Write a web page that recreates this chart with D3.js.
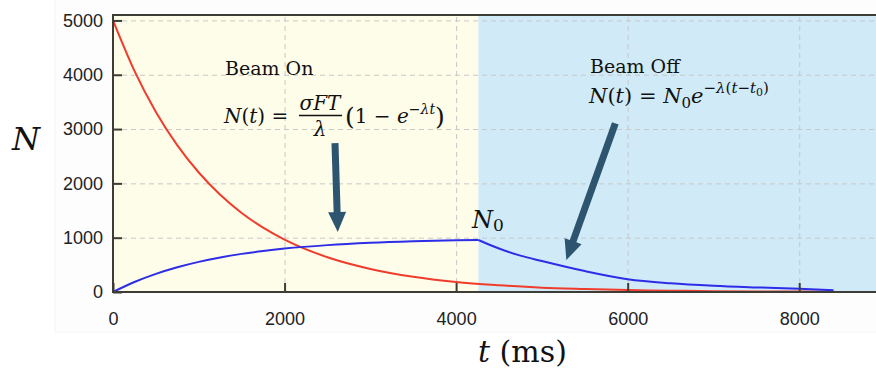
<!DOCTYPE html>
<html>
<head>
<meta charset="utf-8">
<script src="https://cdn.jsdelivr.net/npm/d3@7"></script>
<style>
  body { margin: 0; background: #fff; }
  svg { display: block; }
  .tick text { font-family: "Liberation Sans", Arial, sans-serif; font-size: 18px; fill: #222; }
  .serif { font-family: "DejaVu Serif", serif; fill: #111; }
</style>
</head>
<body>
<div id="chart"></div>
<script>
// time axis (ms) and population readings
const tRed = [0, 250, 500, 750, 1000, 1250, 1500, 1750, 2000, 2500, 3000, 3500, 4000, 4500, 5000, 5500, 6000, 6500, 7000, 7500, 8000, 8400];
const redN = [5000, 4070, 3315, 2700, 2200, 1790, 1455, 1185, 965, 640, 425, 280, 185, 125, 80, 55, 35, 25, 15, 10, 7, 5];

const tOn = [0, 250, 500, 750, 1000, 1250, 1500, 1750, 2000, 2500, 3000, 3500, 4000, 4260];
const blueOn = [0, 184, 334, 456, 555, 636, 702, 755, 799, 863, 906, 934, 953, 958];

const tOff = [4260, 4500, 4750, 5000, 5500, 6000, 6500, 7000, 7500, 8000, 8400];
const blueOff = [958, 800, 670, 570, 385, 235, 160, 115, 85, 60, 30];

const beamSwitch = 4260;
const xTicks = [0, 2000, 4000, 6000, 8000];
const xTickLabels = ["0", "2000", "4000", "6000", "8000"];
const yTicks = [0, 1000, 2000, 3000, 4000, 5000];
const yTickLabels = ["0", "1000", "2000", "3000", "4000", "5000"];

const width = 876, height = 372;
const plotLeft = 113, plotRight = 885, plotTop = 15, plotBottom = 292;

const svg = d3.select("#chart").append("svg")
    .attr("width", width)
    .attr("height", height);

const x = d3.scaleLinear().domain([0, 9000]).range([plotLeft, plotRight]);
const y = d3.scaleLinear().domain([0, 5100]).range([plotBottom, plotTop]);

// faint outer panel
svg.append("rect")
    .attr("x", 55).attr("y", -1)
    .attr("width", width - 54).attr("height", 333)
    .attr("fill", "#fdfdfd")
    .attr("stroke", "#f4f4f4");

// beam on / beam off regions
svg.append("rect")
    .attr("x", x(0)).attr("y", y(5100))
    .attr("width", x(beamSwitch) - x(0))
    .attr("height", y(0) - y(5100))
    .attr("fill", "#fdfdea");

svg.append("rect")
    .attr("x", x(beamSwitch)).attr("y", y(5100))
    .attr("width", x(9000) - x(beamSwitch))
    .attr("height", y(0) - y(5100))
    .attr("fill", "#d0eaf7");

// grid
svg.append("g")
    .attr("transform", "translate(0," + plotBottom + ")")
    .call(d3.axisBottom(x).tickValues(xTicks.slice(1)).tickSize(-(plotBottom - plotTop)).tickFormat(""))
    .call(g => g.select(".domain").remove())
    .call(g => g.selectAll("line").attr("stroke", "#c8c8c8").attr("stroke-dasharray", "5,4"));

svg.append("g")
    .attr("transform", "translate(" + plotLeft + ",0)")
    .call(d3.axisLeft(y).tickValues(yTicks.slice(1)).tickSize(-(width - plotLeft)).tickFormat(""))
    .call(g => g.select(".domain").remove())
    .call(g => g.selectAll("line").attr("stroke", "#c8c8c8").attr("stroke-dasharray", "5,4"));

// curves
const line = d3.line()
    .x(d => x(d[0]))
    .y(d => y(d[1]))
    .curve(d3.curveMonotoneX);

svg.append("path")
    .datum(tRed.map((t, i) => [t, redN[i]]))
    .attr("d", line)
    .attr("fill", "none")
    .attr("stroke", "#f03c2c")
    .attr("stroke-width", 2);

svg.append("path")
    .datum(tOn.map((t, i) => [t, blueOn[i]]))
    .attr("d", line)
    .attr("fill", "none")
    .attr("stroke", "#2d2de8")
    .attr("stroke-width", 2);

svg.append("path")
    .datum(tOff.map((t, i) => [t, blueOff[i]]))
    .attr("d", line)
    .attr("fill", "none")
    .attr("stroke", "#2d2de8")
    .attr("stroke-width", 2);

// frame
const frameColor = "#3d3d35";
svg.append("line").attr("x1", plotLeft).attr("x2", width).attr("y1", plotTop).attr("y2", plotTop)
    .attr("stroke", frameColor).attr("stroke-width", 2);
svg.append("line").attr("x1", plotLeft).attr("x2", width).attr("y1", plotBottom).attr("y2", plotBottom)
    .attr("stroke", frameColor).attr("stroke-width", 2);
svg.append("line").attr("x1", plotLeft).attr("x2", plotLeft).attr("y1", plotTop - 1).attr("y2", plotBottom + 1)
    .attr("stroke", frameColor).attr("stroke-width", 2);

// axes, inward ticks
svg.append("g")
    .attr("transform", "translate(" + plotLeft + ",0)")
    .call(d3.axisLeft(y).tickValues(yTicks).tickSizeInner(-9).tickSizeOuter(0).tickPadding(10)
        .tickFormat((d, i) => yTickLabels[i]))
    .call(g => g.select(".domain").remove())
    .call(g => g.selectAll("line").attr("stroke", frameColor).attr("stroke-width", 2));

svg.append("g")
    .attr("transform", "translate(0," + plotBottom + ")")
    .call(d3.axisBottom(x).tickValues(xTicks).tickSizeInner(-9).tickSizeOuter(0).tickPadding(20)
        .tickFormat((d, i) => xTickLabels[i]))
    .call(g => g.select(".domain").remove())
    .call(g => g.selectAll("line").attr("stroke", frameColor).attr("stroke-width", 2));

// axis titles
svg.append("text").attr("class", "serif")
    .attr("x", 12).attr("y", 150)
    .attr("font-size", 32).attr("font-style", "italic")
    .text("N");

const xt = svg.append("text").attr("class", "serif")
    .attr("x", 478).attr("y", 362)
    .attr("font-size", 30);
xt.append("tspan").attr("font-style", "italic").text("t");
xt.append("tspan").text(" (ms)");

// Beam On annotation
svg.append("text").attr("class", "serif")
    .attr("x", 225).attr("y", 75).attr("font-size", 19)
    .text("Beam On");

const f1 = svg.append("text").attr("class", "serif")
    .attr("x", 224).attr("y", 123).attr("font-size", 20);
f1.append("tspan").attr("font-style", "italic").text("N");
f1.append("tspan").text("(");
f1.append("tspan").attr("font-style", "italic").text("t");
f1.append("tspan").text(") =");

svg.append("text").attr("class", "serif")
    .attr("x", 320).attr("y", 110).attr("font-size", 20)
    .attr("text-anchor", "middle").attr("font-style", "italic")
    .text("σFT");
svg.append("line")
    .attr("x1", 299).attr("x2", 342).attr("y1", 115.5).attr("y2", 115.5)
    .attr("stroke", "#111").attr("stroke-width", 1.3);
svg.append("text").attr("class", "serif")
    .attr("x", 320).attr("y", 136).attr("font-size", 20)
    .attr("text-anchor", "middle").attr("font-style", "italic")
    .text("λ");

const f1b = svg.append("text").attr("class", "serif")
    .attr("x", 345).attr("y", 125).attr("font-size", 20);
f1b.append("tspan").attr("font-size", 25).text("(");
f1b.append("tspan").attr("dy", -2).text("1 − ");
f1b.append("tspan").attr("font-style", "italic").text("e");
f1b.append("tspan").attr("font-size", 14).attr("dy", -9).attr("font-style", "italic").text("−λt");
f1b.append("tspan").attr("font-size", 25).attr("dy", 11).text(")");

// Beam Off annotation
svg.append("text").attr("class", "serif")
    .attr("x", 590).attr("y", 73).attr("font-size", 19)
    .text("Beam Off");

const f2 = svg.append("text").attr("class", "serif")
    .attr("x", 589).attr("y", 103).attr("font-size", 21);
f2.append("tspan").attr("font-style", "italic").text("N");
f2.append("tspan").text("(");
f2.append("tspan").attr("font-style", "italic").text("t");
f2.append("tspan").text(") = ");
f2.append("tspan").attr("font-style", "italic").text("N");
f2.append("tspan").attr("font-size", 15).attr("dy", 5).text("0");
f2.append("tspan").attr("font-style", "italic").attr("dy", -5).text("e");
f2.append("tspan").attr("font-size", 15).attr("dy", -10).attr("font-style", "italic").text("−λ");
f2.append("tspan").attr("font-size", 15).text("(");
f2.append("tspan").attr("font-size", 15).attr("font-style", "italic").text("t");
f2.append("tspan").attr("font-size", 15).text("−");
f2.append("tspan").attr("font-size", 15).attr("font-style", "italic").text("t");
f2.append("tspan").attr("font-size", 11).attr("dy", 3).text("0");
f2.append("tspan").attr("font-size", 15).attr("dy", -3).text(")");

// N0 label at the switch point
const n0 = svg.append("text").attr("class", "serif")
    .attr("x", 472).attr("y", 228).attr("font-size", 24);
n0.append("tspan").attr("font-style", "italic").text("N");
n0.append("tspan").attr("font-size", 17).attr("dy", 3).text("0");

// arrows (data coordinates of tail and tip)
function arrow(t0, v0, t1, v1) {
    const x0 = x(t0), y0 = y(v0), x1 = x(t1), y1 = y(v1);
    const dx = x1 - x0, dy = y1 - y0, len = Math.hypot(dx, dy);
    const ux = dx / len, uy = dy / len, px = -uy, py = ux;
    const sw = 3.5, hw = 9, hl = 20;
    const bx = x1 - ux * hl, by = y1 - uy * hl;
    const pts = [
        [x0 + px * sw, y0 + py * sw],
        [bx + px * sw, by + py * sw],
        [bx + px * hw, by + py * hw],
        [x1, y1],
        [bx - px * hw, by - py * hw],
        [bx - px * sw, by - py * sw],
        [x0 - px * sw, y0 - py * sw]
    ];
    svg.append("path")
        .attr("d", "M" + pts.map(p => p.join(",")).join("L") + "Z")
        .attr("fill", "#2e5570");
}
arrow(2588, 2742, 2620, 1104);
arrow(5856, 3105, 5285, 589);
</script>
</body>
</html>
